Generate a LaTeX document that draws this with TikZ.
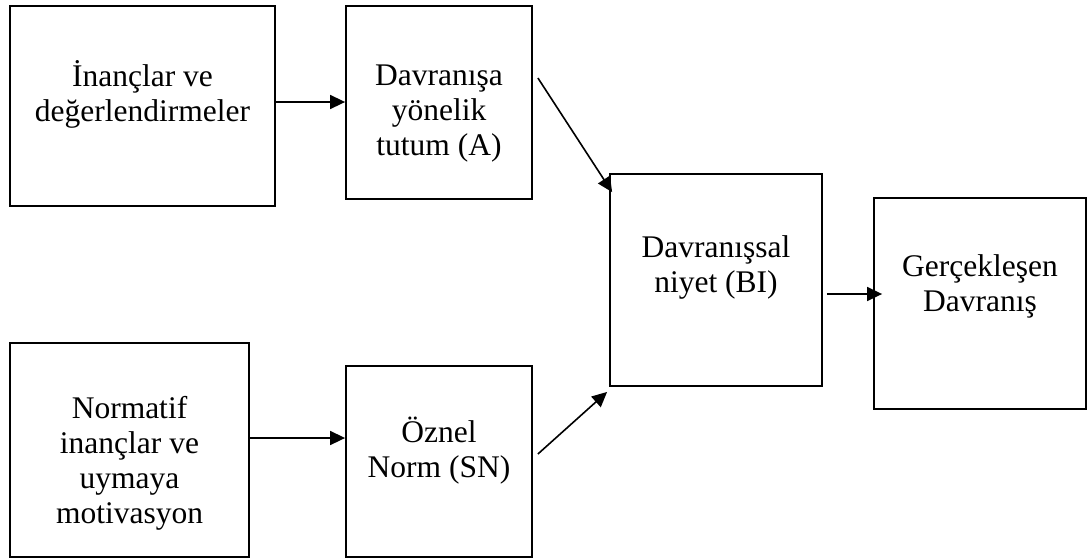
\documentclass[tikz,border=0pt]{standalone}
\usepackage{fontspec}
\setmainfont{Liberation Serif}
\usetikzlibrary{arrows.meta,calc}
\begin{document}
\begin{tikzpicture}[x=1pt,y=-1pt,
  box/.style={draw, line width=1.8pt, inner sep=0pt},
  lbl/.style={anchor=north, align=center, inner sep=0pt, font=\fontsize{31.5}{35}\selectfont},
  arr/.style={line width=1.6pt, -{Triangle[length=15pt,width=14pt]}}]
\useasboundingbox (0,0) rectangle (1091,558);
% boxes
\node[box, minimum width=265pt, minimum height=200pt] (b1) at (142.5,106) {};
\node[box, minimum width=186pt, minimum height=193pt] (b2) at (439,102.5) {};
\node[box, minimum width=212pt, minimum height=212pt] (b3) at (716,280) {};
\node[box, minimum width=212pt, minimum height=211pt] (b4) at (980,303.5) {};
\node[box, minimum width=239pt, minimum height=214pt] (b5) at (129.5,450) {};
\node[box, minimum width=186pt, minimum height=191pt] (b6) at (439,461.5) {};
% texts
\node[lbl] (t1) at (142.5,58) {\rule{0pt}{28pt}İnançlar ve\\değerlendirmeler};
\node[lbl] (t2) at (439,57) {\rule{0pt}{28pt}Davranışa\\yönelik\\tutum (A)};
\node[lbl] (t3) at (716,229) {\rule{0pt}{28pt}Davranışsal\\niyet (BI)};
\node[lbl] (t4) at (980,248) {\rule{0pt}{28pt}Gerçekleşen\\Davranış};
\node[lbl] (t5) at (129.5,390) {\rule{0pt}{28pt}Normatif\\inançlar ve\\uymaya\\motivasyon};
\node[lbl] (t6) at (439,414) {\rule{0pt}{28pt}Öznel\\Norm (SN)};
% connectors
\draw[arr] (b1.east |- 0,102) -- (b2.west |- 0,102);
\draw[arr] (b5.east |- 0,438) -- (b6.west |- 0,438);
\draw[arr] ($(b2.east |- 0,78)+(5,0)$) -- ($(b3.north west)+(3,19)$);
\draw[arr] ($(b6.east |- 0,454)+(5,0)$) -- ($(b3.south west)+(-2,5)$);
\draw[arr] ($(b3.east |- 0,294)+(4,0)$) -- ($(b4.west |- 0,294)+(9,0)$);
\end{tikzpicture}
\end{document}
